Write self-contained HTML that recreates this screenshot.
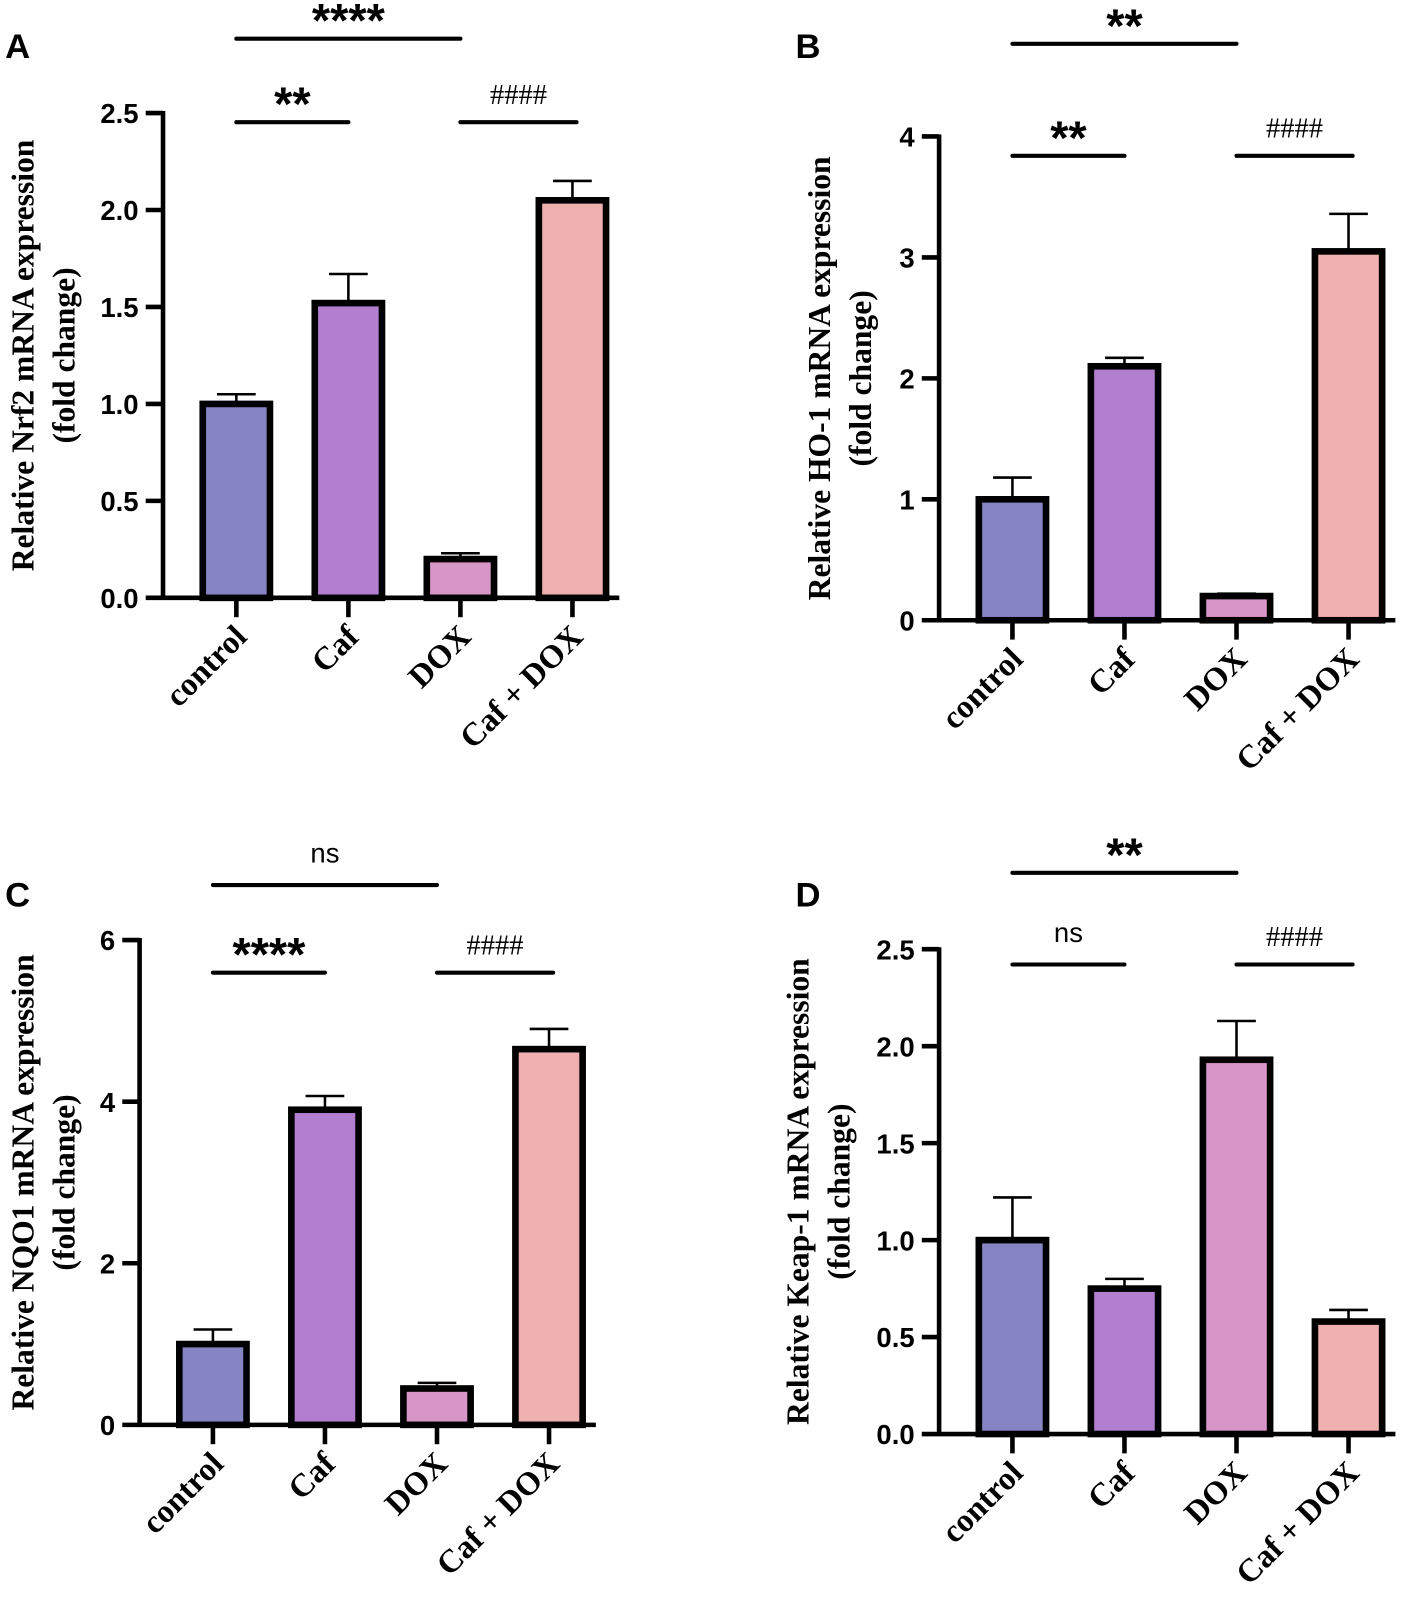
<!DOCTYPE html>
<html><head><meta charset="utf-8"><style>
html,body{margin:0;padding:0;background:#fff;}
svg{display:block;}
.tick{font-family:"Liberation Sans",Arial,sans-serif;font-weight:bold;font-size:27px;}
.cat{font-family:"Liberation Serif",serif;font-weight:bold;font-size:32px;}
.ytitle{font-family:"Liberation Serif",serif;font-weight:bold;font-size:31px;}
.panel{font-family:"Liberation Sans",Arial,sans-serif;font-weight:bold;font-size:34px;}
.sig{font-family:"Liberation Sans",Arial,sans-serif;font-size:26px;}
</style></head><body>
<svg id="fig" width="1426" height="1598" viewBox="0 0 1400 1569" xmlns="http://www.w3.org/2000/svg"></svg>
<script>
const categories = ["control","Caf","DOX","Caf + DOX"];
const colors = ["#8784c4","#b27fd0","#d895c8","#efb0b0"];
const valuesA = [1.0,1.52,0.2,2.05];
const errorsA = [1.05,1.67,0.23,2.15];
const ticksA = ["0.0","0.5","1.0","1.5","2.0","2.5"];
const valuesB = [1.0,2.1,0.2,3.05];
const errorsB = [1.18,2.17,0.22,3.36];
const ticksB = ["0","1","2","3","4"];
const valuesC = [1.0,3.9,0.45,4.65];
const errorsC = [1.18,4.07,0.52,4.9];
const ticksC = ["0","2","4","6"];
const valuesD = [1.0,0.75,1.93,0.58];
const errorsD = [1.22,0.8,2.13,0.64];
const ticksD = ["0.0","0.5","1.0","1.5","2.0","2.5"];
const sigA = [["****",0,2,"b"],["**",0,1,"b"],["####",2,3,"h"]];
const sigB = [["**",0,2,"b"],["**",0,1,"b"],["####",2,3,"h"]];
const sigC = [["ns",0,2,"n"],["****",0,1,"b"],["####",2,3,"h"]];
const sigD = [["**",0,2,"b"],["ns",0,1,"n"],["####",2,3,"h"]];

const NS="http://www.w3.org/2000/svg";
const svg=document.getElementById('fig');
function mk(tag,attrs,parent,text){const e=document.createElementNS(NS,tag);for(const k in attrs)e.setAttribute(k,attrs[k]);if(text!==undefined)e.textContent=text;(parent||svg).appendChild(e);return e;}

function panel(cfg){
  const g=mk('g',{});
  
  
  const ymax=parseFloat(cfg.ticks[cfg.ticks.length-1]);
  const y=v=>cfg.y0-(v/ymax)*(cfg.y0-cfg.yTop);
  const x=i=>cfg.ax+72+i*110;
  cfg.values.forEach((v,i)=>{
    const eb=mk('line',{x1:x(i),x2:x(i),y1:y(v),y2:y(cfg.errors[i]),stroke:'#000','stroke-width':2.5},g);
    
    
    const cap=mk('line',{x1:x(i)-19,x2:x(i)+19,y1:y(cfg.errors[i]),y2:y(cfg.errors[i]),stroke:'#000','stroke-width':2.5},g);
    
    
    const r=mk('rect',{x:x(i)-33,y:y(v),width:66,height:cfg.y0-y(v),fill:colors[i],stroke:'#000','stroke-width':6.5},g);
    
    
    const t=mk('line',{x1:x(i),x2:x(i),y1:cfg.y0,y2:cfg.y0+19,stroke:'#000','stroke-width':4.5},g);
    
    
    const lb=mk('text',{class:'cat','text-anchor':'end',transform:`translate(${x(i)+12},${cfg.y0+40}) rotate(-45)`},g,categories[i]);
    
    
  });
  const ya=mk('line',{x1:cfg.ax,x2:cfg.ax,y1:cfg.yTop-2,y2:cfg.y0+2,stroke:'#000','stroke-width':4.5},g);
  
  
  const xa=mk('line',{x1:cfg.ax,x2:cfg.ax+448,y1:cfg.y0,y2:cfg.y0,stroke:'#000','stroke-width':4.5},g);
  
  
  cfg.ticks.forEach(tk=>{
    const yy=y(parseFloat(tk));
    const tl=mk('line',{x1:cfg.ax-17,x2:cfg.ax,y1:yy,y2:yy,stroke:'#000','stroke-width':4.5},g);
    
    
    const tt=mk('text',{class:'tick','text-anchor':'end',x:cfg.ax-24,y:yy+10},g,tk);
    
    
  });
  const cy=(cfg.yTop+cfg.y0)/2;
  const t1=mk('text',{class:'ytitle','text-anchor':'middle',transform:`translate(${cfg.tx},${cy}) rotate(-90)`},g,cfg.title);
  
  
  const t2=mk('text',{class:'ytitle','text-anchor':'middle',transform:`translate(${cfg.tx+40},${cy}) rotate(-90)`},g,'(fold change)');
  
  
  const pl=mk('text',{class:'panel',x:cfg.px,y:cfg.py},g,cfg.id);
  
  
  cfg.sig.forEach((s,k)=>{
    const ly=k===0?cfg.sigTop:cfg.sigLow;
    const x1=x(s[1]),x2=x(s[2])+(s[3]==='h'?4:0);
    const l=mk('line',{x1:x1,x2:x2,y1:ly,y2:ly,stroke:'#000','stroke-width':4,'stroke-linecap':'round'},g);
    
    
    let attrs={'text-anchor':'middle',x:(x1+x2)/2};
    if(s[3]==='b'){attrs.class='sig';attrs.style='font-size:46px;font-weight:bold';attrs.y=ly-2;}
    else if(s[3]==='n'){attrs.class='sig';attrs.style='font-size:27px';attrs.y=ly-22;}
    else {attrs.class='sig';attrs.style='font-family:Liberation Serif,serif;font-size:28px';attrs.y=ly-18;}
    const tx=mk('text',attrs,g,s[0]);
    
    
  });
}
panel({id:'A',ax:160,yTop:111,y0:587,ticks:ticksA,values:valuesA,errors:errorsA,sig:sigA,sigTop:38,sigLow:120,tx:33,title:'Relative Nrf2 mRNA expression',px:5,py:57});
panel({id:'B',ax:922,yTop:134,y0:609,ticks:ticksB,values:valuesB,errors:errorsB,sig:sigB,sigTop:43,sigLow:153,tx:815,title:'Relative HO-1 mRNA expression',px:781,py:57});
panel({id:'C',ax:137,yTop:923,y0:1399,ticks:ticksC,values:valuesC,errors:errorsC,sig:sigC,sigTop:869,sigLow:955,tx:33,title:'Relative NQO1 mRNA expression',px:5,py:890});
panel({id:'D',ax:922,yTop:932,y0:1408,ticks:ticksD,values:valuesD,errors:errorsD,sig:sigD,sigTop:857,sigLow:947,tx:794,title:'Relative Keap-1 mRNA expression',px:781,py:890});
</script>
</body></html>
